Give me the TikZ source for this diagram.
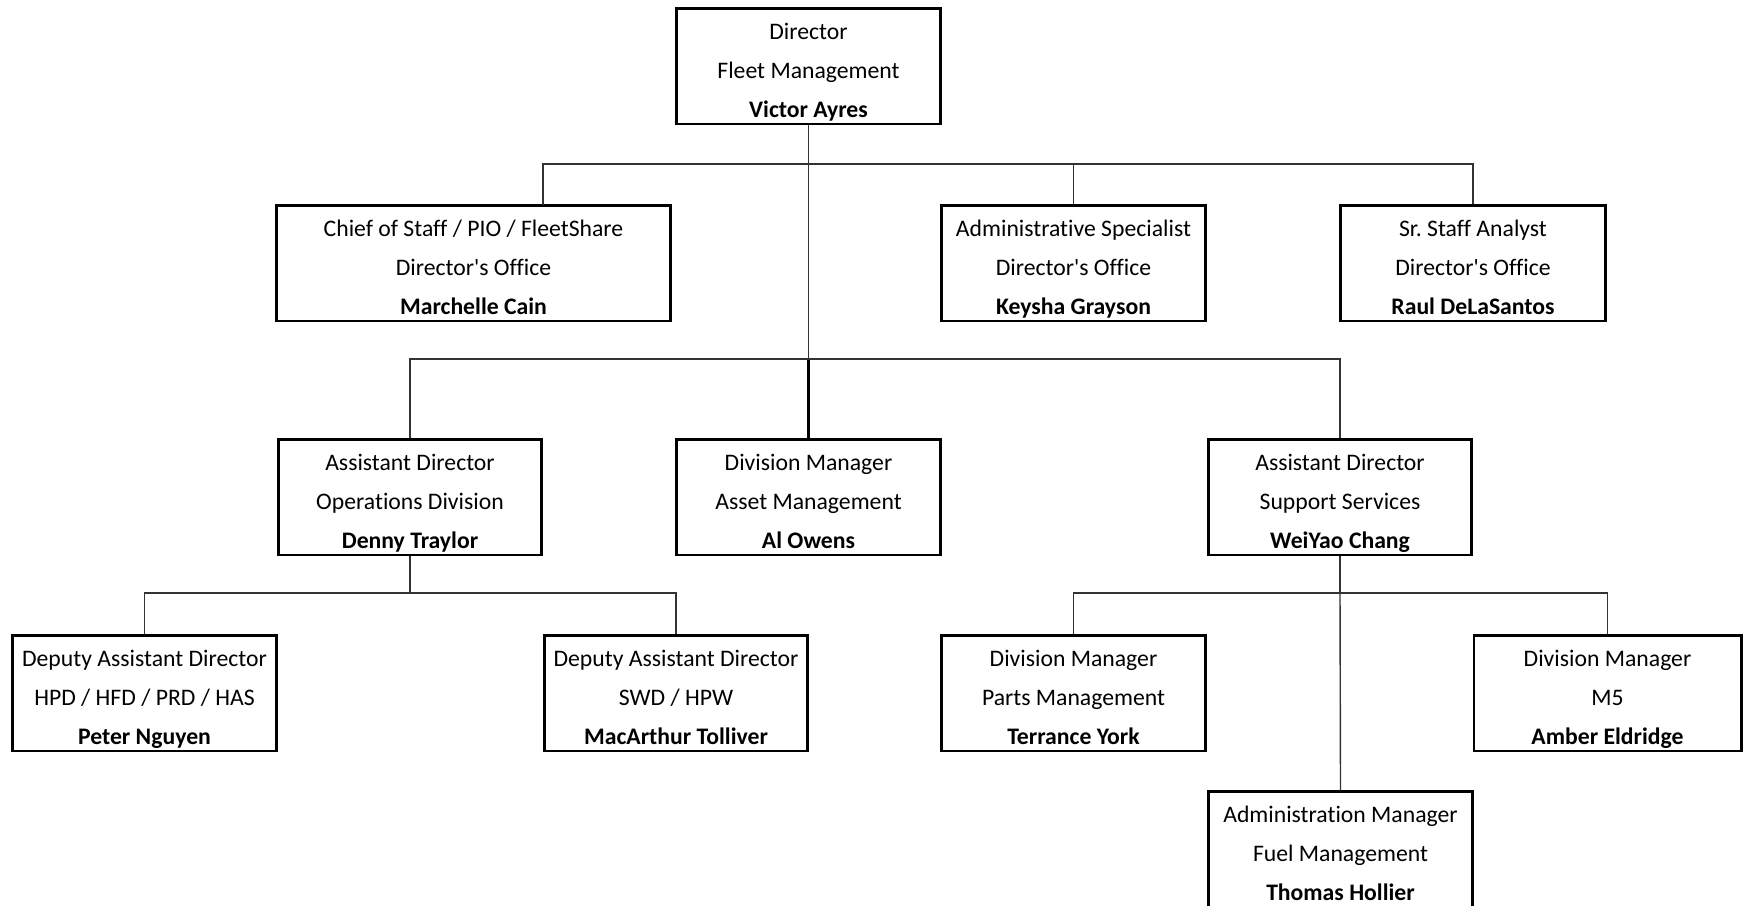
\documentclass[tikz,border=0pt]{standalone}
\usepackage{fontspec}
\setmainfont{Carlito}[Ligatures={NoCommon}]
\frenchspacing
\begin{document}
\begin{tikzpicture}[x=1pt,y=-1pt,
  box/.style={draw=black, line width=2.6pt, inner sep=0pt, minimum height=115.5pt, fill=white},
  txt/.style={inner sep=0pt, font=\fontsize{23.7}{39}\selectfont},
  conn/.style={draw=black!80, line width=1.4pt},
  trunk/.style={draw=black, line width=2.6pt}]
\useasboundingbox (0,0) rectangle (1745,905);
\clip (0,0) rectangle (1745,905);
\newcommand\obox[7]{%
  \node[box, minimum width=#4pt, anchor=north] (#1) at (#2,#3) {};
  \node[txt, anchor=base] (#1-t) at ([yshift=-32.5pt]#1.north)
    {\begin{tabular}[t]{@{}c@{}}#5\\#6\\\textbf{#7}\end{tabular}};}
\newcommand\ap{\textquotesingle}
\coordinate (b1) at (808.5,164);
\coordinate (b2) at (808.5,359);
\coordinate (b3) at (410,593);
\coordinate (b4) at (1340,593);
\coordinate (chiefin) at (543,205);
% boxes
\obox{dir}{808.5}{7.3}{264.4}{Director}{Fleet Management}{Victor Ayres}
\obox{chief}{473.5}{204.3}{394.4}{Chief of Staff / PIO / FleetShare}{Director\ap s Office}{Marchelle Cain}
\obox{adm}{1073.5}{204.3}{264.4}{Administrative Specialist}{Director\ap s Office}{Keysha Grayson}
\obox{sr}{1473}{204.3}{265.4}{Sr. Staff Analyst}{Director\ap s Office}{Raul DeLaSantos}
\obox{op}{410}{438.3}{263.4}{Assistant Director}{Operations Division}{Denny Traylor}
\obox{asset}{808.5}{438.3}{264.4}{Division Manager}{Asset Management}{Al Owens}
\obox{sup}{1340}{438.3}{263.4}{Assistant Director}{Support Services}{WeiYao Chang}
\obox{peter}{144.5}{634.3}{264.4}{Deputy Assistant Director}{HPD / HFD / PRD / HAS}{Peter Nguyen}
\obox{mac}{676}{634.3}{263.4}{Deputy Assistant Director}{SWD / HPW}{MacArthur Tolliver}
\obox{parts}{1073.5}{634.3}{264.4}{Division Manager}{Parts Management}{Terrance York}
\obox{amber}{1607.5}{634.3}{267.4}{Division Manager}{M5}{Amber Eldridge}
\obox{thomas}{1340.5}{790.3}{264.4}{Administration Manager}{Fuel Management}{Thomas Hollier}
% connectors
\draw[conn] (dir.south) -- (b1);
\draw[conn] (b1) -| (chiefin);
\draw[conn] (b1) -| (adm.north);
\draw[conn] (b1) -| (sr.north);
\draw[conn] (b1) -- (b2);
\draw[trunk] (b2) -- (asset.north);
\draw[conn] (b2) -| (op.north);
\draw[conn] (b2) -| (sup.north);
\draw[conn] (op.south) -- (b3);
\draw[conn] (b3) -| (peter.north);
\draw[conn] (b3) -| (mac.north);
\draw[conn] (sup.south) -- (b4);
\draw[conn] (b4) -- (thomas.north);
\draw[conn] (b4) -| (parts.north);
\draw[conn] (b4) -| (amber.north);
\end{tikzpicture}
\end{document}
